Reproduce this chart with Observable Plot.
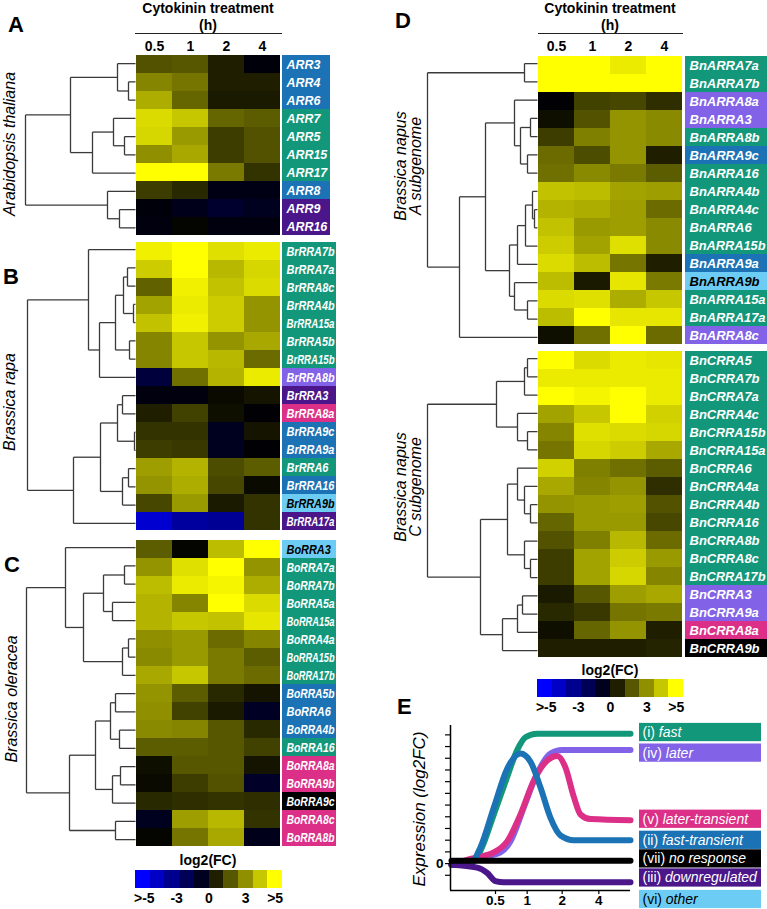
<!DOCTYPE html>
<html><head><meta charset="utf-8">
<script src="https://cdn.jsdelivr.net/npm/d3@7"></script>
<script src="https://cdn.jsdelivr.net/npm/@observablehq/plot@0.6"></script>
<style>
html,body{margin:0;padding:0;background:#fff;}
#fig{position:relative;width:767px;height:909px;overflow:hidden;font-family:'Liberation Sans',Arial,sans-serif;color:#000;}
.t{white-space:nowrap;}
</style></head><body><div id="fig"></div>
<script>
const FONT = "'Liberation Sans', Arial, sans-serif";
const ROW = 18.25;
const times = ["0.5","1","2","4"];
// response groups: i fast, ii fast-transient, iii downregulated, iv later, v later-transient, vi other, vii no response
const groupColor = {i:"#13977a", ii:"#1b72b4", iii:"#4a168a", iv:"#8262e6", v:"#dc2f87", vi:"#6cccf4", vii:"#000000"};
const colorScale = {type:"linear", domain:[-5,0,5], range:["#0000ff","#000000","#ffff00"], interpolate:"rgb", clamp:true};

// ---- A: Arabidopsis thaliana ----
const genesA = ["ARR3","ARR4","ARR6","ARR7","ARR5","ARR15","ARR17","ARR8","ARR9","ARR16"];
const groupsA = ["ii","ii","ii","i","i","i","i","ii","iii","iii"];
const valuesA = [
  [1.6,1.7,0.6,-0.2],[2.6,2.3,0.6,0.6],[3.4,2.0,0.5,0.5],[4.3,3.9,2.0,1.8],[4.2,3.0,1.2,1.6],
  [2.8,3.3,1.2,1.6],[5,5,2.4,1.0],[1.2,0.8,-0.4,-0.4],[-0.2,-0.5,-0.9,-0.6],[-0.3,0.1,-0.3,-0.3]];
const treeA = [110,[65,[18,"ARR3",[7,"ARR4","ARR6"]],[43,[22,"ARR7",[11,"ARR5","ARR15"]],"ARR17"]],[28,"ARR8",[16,"ARR9","ARR16"]]];

// ---- B: Brassica rapa ----
const genesB = ["BrRRA7b","BrRRA7a","BrRRA8c","BrRRA4b","BrRRA15a","BrRRA5b","BrRRA15b","BrRRA8b","BrRRA3","BrRRA8a","BrRRA9c","BrRRA9a","BrRRA6","BrRRA16","BrRRA9b","BrRRA17a"];
const groupsB = ["i","i","i","i","i","i","i","iv","iii","v","ii","ii","i","ii","vi","iii"];
const valuesB = [
  [4.7,5,4.4,4.6],[4.0,5,3.6,4.2],[1.9,4.7,3.8,4.3],[3.2,4.6,4.0,2.9],[3.8,4.7,4.0,2.9],
  [2.6,3.9,2.9,3.3],[2.6,3.9,3.6,2.1],[-1.2,2.2,3.5,4.6],[-0.3,-0.3,0.2,0.4],[0.6,1.3,0.3,-0.1],
  [1.0,1.0,-0.6,0.4],[1.2,1.1,-0.6,-0.1],[3.1,3.5,1.5,1.8],[2.9,3.4,1.4,0.2],[1.4,3.0,0.5,1.0],[-4.1,-3.1,-2.9,1.0]];
const treeB = [108,[47,"BrRRA7b",[36,[20,[12,[8,"BrRRA7a","BrRRA8c"],[2,"BrRRA4b","BrRRA15a"]],[6,"BrRRA5b","BrRRA15b"]],"BrRRA8b"]],
  [62,[35,[18,[13,"BrRRA3","BrRRA8a"],[1,"BrRRA9c","BrRRA9a"]],[13,[7,"BrRRA6","BrRRA16"],"BrRRA9b"]],"BrRRA17a"]];

// ---- C: Brassica oleracea ----
const genesC = ["BoRRA3","BoRRA7a","BoRRA7b","BoRRA5a","BoRRA15a","BoRRA4a","BoRRA15b","BoRRA17b","BoRRA5b","BoRRA6","BoRRA4b","BoRRA16","BoRRA8a","BoRRA9b","BoRRA9c","BoRRA8c","BoRRA8b"];
const groupsC = ["vi","i","i","i","i","i","i","i","ii","ii","ii","i","v","v","vii","v","v"];
const valuesC = [
  [1.8,0.1,3.7,5],[2.9,4.4,5,2.9],[3.7,4.6,4.8,3.4],[3.5,2.6,5,4.3],[3.5,3.9,3.8,4.5],
  [2.8,3.0,2.1,2.6],[2.7,3.0,2.4,1.8],[3.3,3.9,2.4,2.1],[2.9,1.8,0.8,0.4],[2.8,1.3,0.5,-0.7],
  [2.7,2.6,1.7,0.8],[1.8,1.8,1.7,1.3],[0.3,1.7,1.7,0.4],[0.2,1.2,1.6,-0.8],[0.8,0.9,1.0,0.9],
  [-0.6,3.1,3.6,1.0],[0.1,2.3,3.3,-0.5]];
const treeC = [109,[70,"BoRRA3",[52,[32,[11,"BoRRA7a","BoRRA7b"],[23,"BoRRA5a","BoRRA15a"]],[13,[7,"BoRRA4a","BoRRA15b"],"BoRRA17b"]]],
  [66,[40,[25,[20,"BoRRA5b","BoRRA6"],[16,"BoRRA4b","BoRRA16"]],[23,[15,"BoRRA8a","BoRRA9b"],"BoRRA9c"]],[20,"BoRRA8c","BoRRA8b"]]];

// ---- D: Brassica napus A subgenome ----
const genesDA = ["BnARRA7a","BnARRA7b","BnARRA8a","BnARRA3","BnARRA8b","BnARRA9c","BnARRA16","BnARRA4b","BnARRA4c","BnARRA6","BnARRA15b","BnARRA9a","BnARRA9b","BnARRA15a","BnARRA17a","BnARRA8c"];
const groupsDA = ["i","i","iv","iv","i","ii","i","i","i","i","i","ii","vi","i","i","iv"];
const valuesDA = [
  [5,5,4.6,5],[5,5,5,5],[-0.1,1.3,1.4,0.9],[0.3,1.6,2.9,2.7],[1.2,2.5,2.9,2.7],
  [2.1,1.5,2.9,0.6],[2.2,2.7,2.4,1.8],[3.8,3.7,3.2,3.1],[3.5,3.4,3.1,2.1],[3.8,3.0,3.1,2.7],
  [4.0,3.2,4.4,2.7],[4.3,3.7,2.3,0.6],[3.7,0.5,4.5,2.4],[4.3,4.4,3.4,3.9],[3.7,5,4.5,4.5],[0.3,2.2,5,2.1]];
const treeDA = [110,[13,"BnARRA7a","BnARRA7b"],[78,[52,[23,"BnARRA8a",[17,[7,"BnARRA3","BnARRA8b"],[10,"BnARRA9c","BnARRA16"]]],
  [28,[20,[12,[5,"BnARRA4b",[3,"BnARRA4c","BnARRA6"]],"BnARRA15b"],"BnARRA9a"],[23,"BnARRA9b",[10,"BnARRA15a","BnARRA17a"]]]],"BnARRA8c"]];

// ---- D: Brassica napus C subgenome ----
const genesDC = ["BnCRRA5","BnCRRA7b","BnCRRA7a","BnCRRA4c","BnCRRA15b","BnCRRA15a","BnCRRA6","BnCRRA4a","BnCRRA4b","BnCRRA16","BnCRRA8b","BnCRRA8c","BnCRRA17b","BnCRRA3","BnCRRA9a","BnCRRA8a","BnCRRA9b"];
const groupsDC = ["i","i","i","i","i","i","i","i","i","i","i","i","i","iv","iv","v","vii"];
const valuesDC = [
  [5,4.3,4.6,4.5],[4.6,4.6,4.6,4.6],[5,4.8,5,4.6],[3.2,3.9,5,4.1],[2.6,4.4,4.3,4.2],
  [2.3,4.2,4.0,3.3],[4.1,2.5,2.2,1.8],[3.3,2.6,2.9,0.9],[2.9,3.0,3.1,1.6],[2.0,3.0,3.0,1.4],
  [1.6,2.5,3.6,2.1],[1.2,3.2,4.0,3.0],[1.2,3.2,4.2,2.6],[0.5,1.7,3.1,3.3],[0.8,1.1,2.3,2.4],
  [0.3,2.0,2.9,0.6],[0.6,0.6,0.6,0.7]];
const treeDC = [110,[41,[13,[10,"BnCRRA5","BnCRRA7b"],"BnCRRA7a"],[20,"BnCRRA4c",[10,"BnCRRA15b","BnCRRA15a"]]],
  [57,[30,[20,"BnCRRA6",[13,"BnCRRA4a",[7,"BnCRRA4b","BnCRRA16"]]],[13,"BnCRRA8b",[7,"BnCRRA8c","BnCRRA17b"]]],
      [35,[20,[15,"BnCRRA3","BnCRRA9a"],"BnCRRA8a"],"BnCRRA9b"]]];

// ---- colour key ----
const legendLevels = [-5,-3.9,-2.8,-1.7,-0.6,0.6,1.7,2.8,3.9,5];
const cbTickPos = [-4.4,-2.2,0,2.5,4.5];
const cbTickLabels = [">-5","-3","0","3",">5"];

// ---- E: schematic response profiles (x: time axis units, y: log2FC units) ----
const eFast = [[0.03,-0.1],[0.6,0],[0.9,1.1],[1.3,4.2],[1.7,7.4],[2.0,9.7],[2.25,10.8],[2.6,11.1],[5.4,11.1]];
const eLater = [[0.03,-0.1],[0.9,0.5],[1.5,0.95],[1.8,1.9],[2.2,4.8],[2.6,7.7],[3.0,9.4],[3.35,9.7],[5.4,9.7]];
const eLaterTransient = [[0.03,-0.1],[0.6,0.4],[1.3,0.95],[1.7,1.9],[2.1,4.2],[2.5,7.1],[2.9,8.8],[3.2,9.2],[3.45,8.2],[3.7,5.7],[3.9,4.2],[4.2,3.8],[5.4,3.7]];
const eFastTransient = [[0.03,-0.1],[0.6,0],[0.9,1.4],[1.3,4.8],[1.7,8.1],[2.1,9.4],[2.4,8.7],[2.7,6.5],[3.0,3.9],[3.3,2.4],[3.7,2.0],[5.4,2.0]];
const eDown = [[0.03,-0.1],[0.8,-0.35],[1.1,-0.8],[1.35,-1.5],[1.6,-1.6],[5.4,-1.6]];
const eNone = [[0.03,0.25],[5.4,0.25]];
const eXTickPos = [1.35,2.3,3.35,4.45];
const eXTickLabels = ["0.5","1","2","4"];
const eYTicks = [-1,0,1,2,3,4,5,6,7,8,9,10,11];
const eLabels = ["(i) fast","(iv) later","(v) later-transient","(ii) fast-transient","(vii) no response","(iii) downregulated","(vi) other"];
const eLabelGroups = ["i","iv","v","ii","vii","iii","vi"];
const eLabelY = [11.2,9.44,3.79,1.99,0.4,-1.23,-3.07];

// ================= drawing =================
const fig = document.getElementById("fig");
function put(el, left, top){ el.style.position="absolute"; el.style.left=left+"px"; el.style.top=top+"px"; fig.appendChild(el); return el; }
function txt(s, {x, base, size=14, weight="bold", italic=false, anchor="middle"}) {
  const d = document.createElement("div"); d.className="t"; d.textContent=s;
  d.style.fontSize=size+"px"; d.style.fontWeight=weight; d.style.fontStyle=italic?"italic":"normal";
  d.style.lineHeight=size+"px";
  if (anchor==="middle") d.style.transform="translateX(-50%)";
  put(d, x, base-0.85*size);
}
function vtxt(lines, {cx, cy, size=16, lh=16, italic=true, weight="normal"}) {
  const d = document.createElement("div"); d.className="t";
  lines.forEach((l,i)=>{ if(i) d.appendChild(document.createElement("br")); d.appendChild(document.createTextNode(l)); });
  d.style.fontSize=size+"px"; d.style.lineHeight=lh+"px"; d.style.fontStyle=italic?"italic":"normal"; d.style.fontWeight=weight;
  d.style.textAlign="center"; d.style.transform="translate(-50%,-50%) rotate(-90deg)";
  put(d, cx, cy);
}
function hline(x, y, w){ const d=document.createElement("div"); d.style.width=w+"px"; d.style.height="0px"; d.style.borderTop="1.3px solid #222"; put(d,x,y); }

function dendroSegments(tree, genes){
  const idx = new Map(genes.map((g,i)=>[g,i]));
  const segs = [];
  (function walk(node){
    if (typeof node === "string") return {h:0, y:idx.get(node)+0.5};
    const [h,a,b] = node; const A = walk(a), B = walk(b);
    segs.push({x1:A.h,x2:h,y1:A.y,y2:A.y},{x1:B.h,x2:h,y1:B.y,y2:B.y},{x1:h,x2:h,y1:A.y,y2:B.y});
    return {h, y:(A.y+B.y)/2};
  })(tree);
  return segs;
}
function dendro(tree, genes, heatLeft, top){
  const p = Plot.plot({width:112, height:genes.length*ROW, marginTop:0, marginBottom:0, marginLeft:2, marginRight:0,
    x:{domain:[0,110], reverse:true, axis:null}, y:{domain:[0,genes.length], reverse:true, axis:null},
    style:{background:"transparent", overflow:"visible"},
    marks:[Plot.link(dendroSegments(tree, genes), {x1:"x1",x2:"x2",y1:"y1",y2:"y2",stroke:"#3a3a3a",strokeWidth:1.3})]});
  put(p, heatLeft-112, top);
}
function heatmap(genes, values, left, top, width, axis){
  const data = genes.flatMap((g,i)=>times.map((t,j)=>({gene:g, time:t, value:values[i][j]})));
  const mt = axis ? 20 : 0;
  const p = Plot.plot({width, height:genes.length*ROW+mt, marginTop:mt, marginBottom:0, marginLeft:0, marginRight:0,
    style:{fontFamily:FONT, fontSize:"14px", fontWeight:"bold", color:"#000", background:"transparent", overflow:"visible"},
    x:{domain:times, padding:0, axis: axis ? "top" : null, tickSize:0, tickPadding:4, label:null},
    y:{domain:genes, padding:0, axis:null},
    color:colorScale,
    marks:[Plot.cell(data,{x:"time", y:"gene", fill:"value", inset:0, shapeRendering:"crispEdges"})]});
  put(p, left, top-mt);
}
function labelCol(genes, groups, left, top, width, squeeze){
  const rows = genes.map((g,i)=>({gene:g, group:groups[i]}));
  const p = Plot.plot({width, height:genes.length*ROW, margin:0,
    y:{domain:genes, padding:0, axis:null}, color:{type:"identity"},
    style:{fontFamily:FONT, fontSize:"13px", fontWeight:"bold", fontStyle:"italic", background:"transparent", overflow:"visible"},
    marks:[Plot.cell(rows,{y:"gene", fill:d=>groupColor[d.group], inset:0, shapeRendering:"crispEdges"}),
           Plot.text(rows,{y:"gene", text:"gene", frameAnchor:"left", textAnchor:"start", dx:4, fill:d=>d.group==="vi"?"#000":"#fff"})]});
  put(p, left, top);
  const room = width - 6;
  p.querySelectorAll("text").forEach(t=>{
    const L = t.getComputedTextLength();
    const target = Math.min(L*squeeze, room);
    if (L > 0 && target < L) { t.setAttribute("textLength", target.toFixed(1)); t.setAttribute("lengthAdjust","spacingAndGlyphs"); }
  });
}
function colorKey(left, top, width){
  const bins = legendLevels.map((v,i)=>({lo:-5+i, hi:-4+i, v}));
  const lab = new Map(cbTickPos.map((d,i)=>[d, cbTickLabels[i]]));
  const p = Plot.plot({width, height:18+20, marginTop:0, marginBottom:20, marginLeft:0, marginRight:0,
    style:{fontFamily:FONT, fontSize:"14px", fontWeight:"bold", background:"transparent", overflow:"visible"},
    x:{domain:[-5,5], label:null}, y:{domain:[0,1], axis:null}, color:colorScale,
    marks:[Plot.rect(bins,{x1:"lo", x2:"hi", y1:0, y2:1, fill:"v", shapeRendering:"crispEdges"}),
           Plot.axisX(cbTickPos,{tickSize:0, tickPadding:5, tickFormat:d=>lab.get(d), label:null})]});
  put(p, left, top);
}

// panel A
heatmap(genesA, valuesA, 134.5, 53.5, 145, true);
dendro(treeA, genesA, 134.5, 53.5);
labelCol(genesA, groupsA, 282.3, 53.5, 48, 0.955);
// panel B
heatmap(genesB, valuesB, 134.5, 240, 145, false);
dendro(treeB, genesB, 134.5, 240);
labelCol(genesB, groupsB, 282.3, 240, 54, 0.84);
// panel C
heatmap(genesC, valuesC, 134.5, 538, 145, false);
dendro(treeC, genesC, 134.5, 538);
labelCol(genesC, groupsC, 282.3, 538, 54, 0.84);
colorKey(135, 870.3, 147);
// panel D
heatmap(genesDA, valuesDA, 536.5, 54, 146, true);
dendro(treeDA, genesDA, 536.5, 54);
labelCol(genesDA, groupsDA, 684.7, 54, 82, 1);
heatmap(genesDC, valuesDC, 536.5, 349, 146, false);
dendro(treeDC, genesDC, 536.5, 349);
labelCol(genesDC, groupsDC, 684.7, 349, 82, 1);
colorKey(536.5, 679, 146);

// panel E curves
const eSeries = [["iv",eLater],["i",eFast],["v",eLaterTransient],["ii",eFastTransient],["iii",eDown],["vii",eNone]];
const eData = eSeries.flatMap(([g,pts])=>pts.map(([x,y])=>({x,y,group:g})));
const eLab = new Map(eXTickPos.map((d,i)=>[d, eXTickLabels[i]]));
const eplot = Plot.plot({width:260, height:197, marginLeft:70, marginRight:10, marginTop:15, marginBottom:17,
  x:{domain:[0,5.4], label:null}, y:{domain:[-2.3,11.8], label:null}, color:{type:"identity"},
  style:{fontFamily:FONT, fontSize:"13.5px", fontWeight:"bold", background:"transparent", overflow:"visible"},
  marks:[
    Plot.line(eData,{x:"x", y:"y", z:"group", stroke:d=>groupColor[d.group], strokeWidth:6, curve:"monotone-x"}),
    Plot.ruleX([0],{stroke:"#000", strokeWidth:1.5}),
    Plot.ruleY([-2.3],{stroke:"#000", strokeWidth:1.5}),
    Plot.axisY(eYTicks,{tickSize:5, tickPadding:2, tickFormat:d=>d===0?"0":"", label:null, strokeWidth:1.2}),
    Plot.axisX(eXTickPos,{tickSize:4, tickPadding:1, tickFormat:d=>eLab.get(d), label:null, strokeWidth:1.2})
  ]});
put(eplot, 380, 710);

const eLegend = eLabels.map((l,i)=>({label:l, group:eLabelGroups[i], y:eLabelY[i]}));
const elp = Plot.plot({width:122, height:199, marginLeft:0, marginRight:0, marginTop:15, marginBottom:19,
  x:{domain:[0,1], axis:null}, y:{domain:[-2.3,11.8], axis:null}, color:{type:"identity"},
  style:{fontFamily:FONT, fontSize:"14px", background:"transparent", overflow:"visible"},
  marks:[
    Plot.rect(eLegend,{x1:0, x2:1, y1:d=>d.y-0.78, y2:d=>d.y+0.78, fill:d=>groupColor[d.group]}),
    Plot.text(eLegend,{y:"y", text:"label", frameAnchor:"left", textAnchor:"start", dx:3, fill:d=>d.group==="vi"?"#000":"#fff"})
  ]});
elp.querySelectorAll("text").forEach(t=>{
  const s = t.textContent; const k = s.indexOf(" ");
  if (k<0) return;
  t.textContent = "";
  const a = document.createElementNS("http://www.w3.org/2000/svg","tspan"); a.textContent = s.slice(0,k+1);
  const b = document.createElementNS("http://www.w3.org/2000/svg","tspan"); b.textContent = s.slice(k+1); b.setAttribute("font-style","italic");
  t.appendChild(a); t.appendChild(b);
});
put(elp, 639, 710);

// texts
txt("A",{x:8, base:33, size:22, anchor:"start"});
txt("B",{x:3, base:285, size:22, anchor:"start"});
txt("C",{x:4, base:573, size:22, anchor:"start"});
txt("D",{x:395, base:29, size:22, anchor:"start"});
txt("E",{x:397, base:715, size:22, anchor:"start"});
txt("Cytokinin treatment",{x:208, base:12.5});
txt("(h)",{x:208, base:30});
hline(135, 33, 147);
txt("Cytokinin treatment",{x:610, base:12.5});
txt("(h)",{x:610, base:30});
hline(538, 33, 145);
txt("log2(FC)",{x:208, base:865});
txt("log2(FC)",{x:610, base:675});
vtxt(["Arabidopsis thaliana"],{cx:10, cy:144});
vtxt(["Brassica rapa"],{cx:10, cy:402});
vtxt(["Brassica oleracea"],{cx:12, cy:699});
vtxt(["Brassica napus","A subgenome"],{cx:408, cy:166, lh:15});
vtxt(["Brassica napus","C subgenome"],{cx:408, cy:487, lh:15});
vtxt(["Expression (log2FC)"],{cx:419, cy:809, size:17, lh:17});
</script></body></html>
